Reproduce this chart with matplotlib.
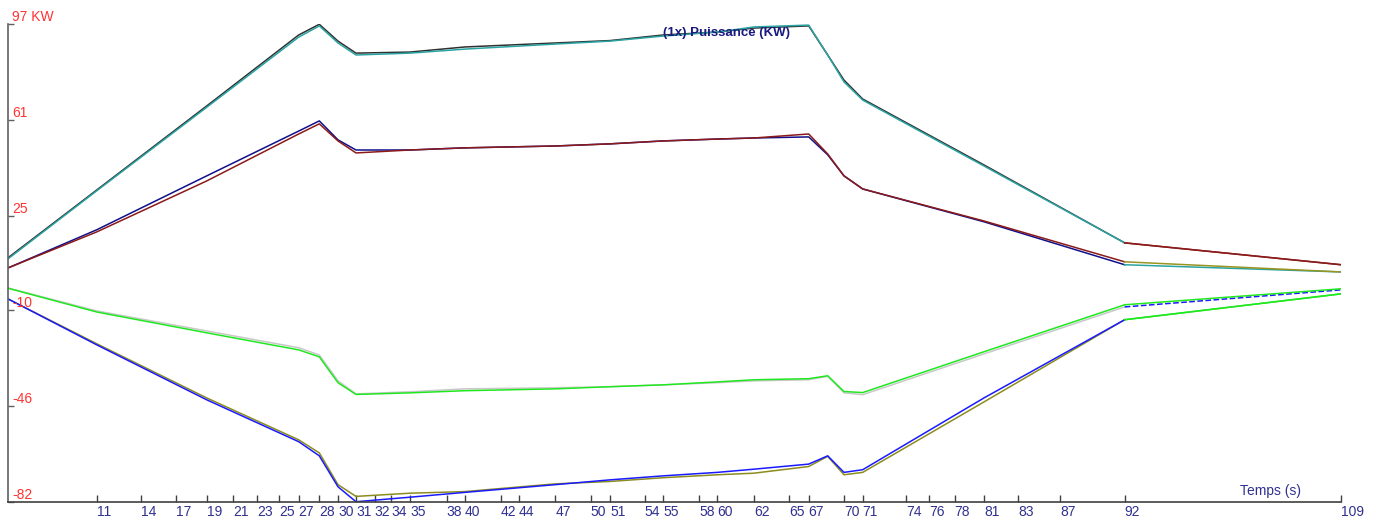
import matplotlib
matplotlib.use("Agg")
import matplotlib.pyplot as plt

plt.rcParams['font.family'] = ['Liberation Sans Narrow', 'Liberation Sans', 'DejaVu Sans']

# abscissa of the samples (axis units), and the time labels shown under the axis
pos = [0, 88.7, 198.7, 290.7, 311.3, 330, 348, 402, 456.7, 547.3, 602, 655.3,
       709.3, 746, 800.7, 819.7, 836, 854.7, 976, 1116.7, 1333.3]

tick_pos = [88.7, 133.3, 168, 198.7, 225.3, 249.3, 271.3, 290.7, 311.3, 330,
            348, 366.7, 383.3, 402, 438.7, 456.7, 492.7, 510.7, 547.3, 582.7,
            602, 636.7, 655.3, 691.3, 709.3, 746, 781.3, 800.7, 836, 854.7,
            898, 921.3, 946.7, 976, 1010, 1052, 1116.7, 1333.3]
tick_lab = ['11', '14', '17', '19', '21', '23', '25', '27', '28', '30', '31',
            '32', '34', '35', '38', '40', '42', '44', '47', '50', '51', '54',
            '55', '58', '60', '62', '65', '67', '70', '71', '74', '76', '78',
            '81', '83', '87', '92', '109']

y_ticks = [97, 61, 25, -10, -46, -82]
y_lab = ['97 KW', '61', '25', '-10', '-46', '-82']

# power curves (KW)
top_black = [9.5, 34.9, 66.4, 93.0, 97.0, 90.7, 86.2, 86.6, 88.5, 90.0, 90.9,
             93.0, 94.1, 95.6, 96.4, 85.5, 76.1, 69.0, 44.3, 15.1, 6.9]
top_teal = [9.1, 34.6, 65.9, 92.2, 96.4, 90.0, 85.5, 86.2, 87.7, 89.6, 90.7,
            92.6, 94.1, 96.0, 96.7, 85.5, 75.4, 68.6, 43.9, 15.1, 6.9]
mid_blue = [5.7, 20.0, 40.2, 57.0, 60.8, 53.7, 49.9, 49.9, 50.7, 51.4, 52.2,
            53.3, 54.0, 54.4, 54.8, 48.1, 40.2, 35.3, 23.0, 6.9, 4.2]
mid_red = [5.7, 19.2, 38.3, 55.9, 59.7, 53.3, 48.8, 49.9, 50.7, 51.4, 52.2,
           53.3, 54.0, 54.4, 55.9, 48.4, 40.2, 35.3, 23.3, 8.0, 4.2]
low_gray = [-1.8, -10.4, -17.9, -24.2, -26.9, -36.6, -41.5, -40.7, -39.6,
            -39.2, -38.8, -38.1, -37.3, -36.6, -36.2, -34.9, -41.1, -41.8,
            -26.5, -8.9, -2.5]
low_green = [-1.9, -10.8, -18.6, -25.0, -27.6, -37.3, -41.7, -41.1, -40.3,
             -39.6, -38.8, -38.1, -37.0, -36.2, -35.8, -34.7, -40.6, -41.0,
             -25.7, -8.1, -2.1]
bot_olive = [-5.9, -22.7, -43.0, -58.7, -63.6, -75.5, -79.9, -78.7, -78.1,
             -75.2, -74.3, -72.9, -71.8, -71.2, -68.7, -64.9, -71.8, -70.9,
             -44.5, -13.7, -4.0]
bot_blue = [-5.9, -23.1, -43.7, -59.4, -64.7, -76.3, -81.9, -80.2, -78.4,
            -75.5, -73.7, -72.2, -70.9, -69.7, -67.8, -64.7, -70.9, -69.9,
            -43.0, -13.7, -4.0]

# (values, colour, colour of the last segment, style of the last segment)
series = [
    (top_black, '#303030', '#8b1a1a', '-'),
    (top_teal, '#2aa3a3', '#8b1a1a', '-'),
    (mid_blue, '#10108a', '#2aa3a3', '-'),
    (mid_red, '#8b1a1a', '#9a9420', '-'),
    (low_gray, '#c8c8c8', '#1a1aff', '--'),
    (low_green, '#20e820', '#20e820', '-'),
    (bot_olive, '#8c8c20', '#20e820', '-'),
    (bot_blue, '#1a1aff', '#20e820', '-'),
]

fig = plt.figure(figsize=(13.76, 5.2), dpi=100)
ax = fig.add_axes([8 / 1376, 18 / 520, 1333.3 / 1376, 477.7 / 520])

for vals, col, last_col, last_ls in series:
    ax.plot(pos[:-1], vals[:-1], color=col, lw=1.1)
    ax.plot(pos[-2:], vals[-2:], color=last_col, lw=1.1, ls=last_ls)

ax.set_xlim(0, 1333.3)
ax.set_ylim(-82, 97)

for s in ['top', 'right']:
    ax.spines[s].set_visible(False)
ax.spines['left'].set_color('#606060')
ax.spines['bottom'].set_color('#404040')
ax.spines['left'].set_linewidth(1.2)
ax.spines['bottom'].set_linewidth(1.2)

ax.set_xticks(tick_pos)
ax.set_xticklabels(tick_lab, ha='left', color='#303090', fontsize=10)
ax.tick_params(axis='x', direction='in', length=5, width=1, color='#404040', pad=2)

ax.set_yticks(y_ticks)
ax.set_yticklabels([])
ax.tick_params(axis='y', direction='in', length=4, width=1, color='#606060')
for v, lab in zip(y_ticks, y_lab):
    ax.annotate(lab, xy=(0, v), xycoords=('axes fraction', 'data'),
                xytext=(3, 0), textcoords='offset points', va='bottom',
                ha='left', color='#ff3333', fontsize=10, annotation_clip=False)

ax.text(0.947, 0.022, 'Temps (s)', transform=ax.transAxes, color='#303090',
        fontsize=10, ha='center', va='center')
fig.text(726 / 1376, 1 - 32.7 / 520, '(1x) Puissance (KW)', color='#1a1a80',
         fontsize=9.5, fontweight='bold', ha='center', va='center')

fig.savefig('out.png', dpi=100)
